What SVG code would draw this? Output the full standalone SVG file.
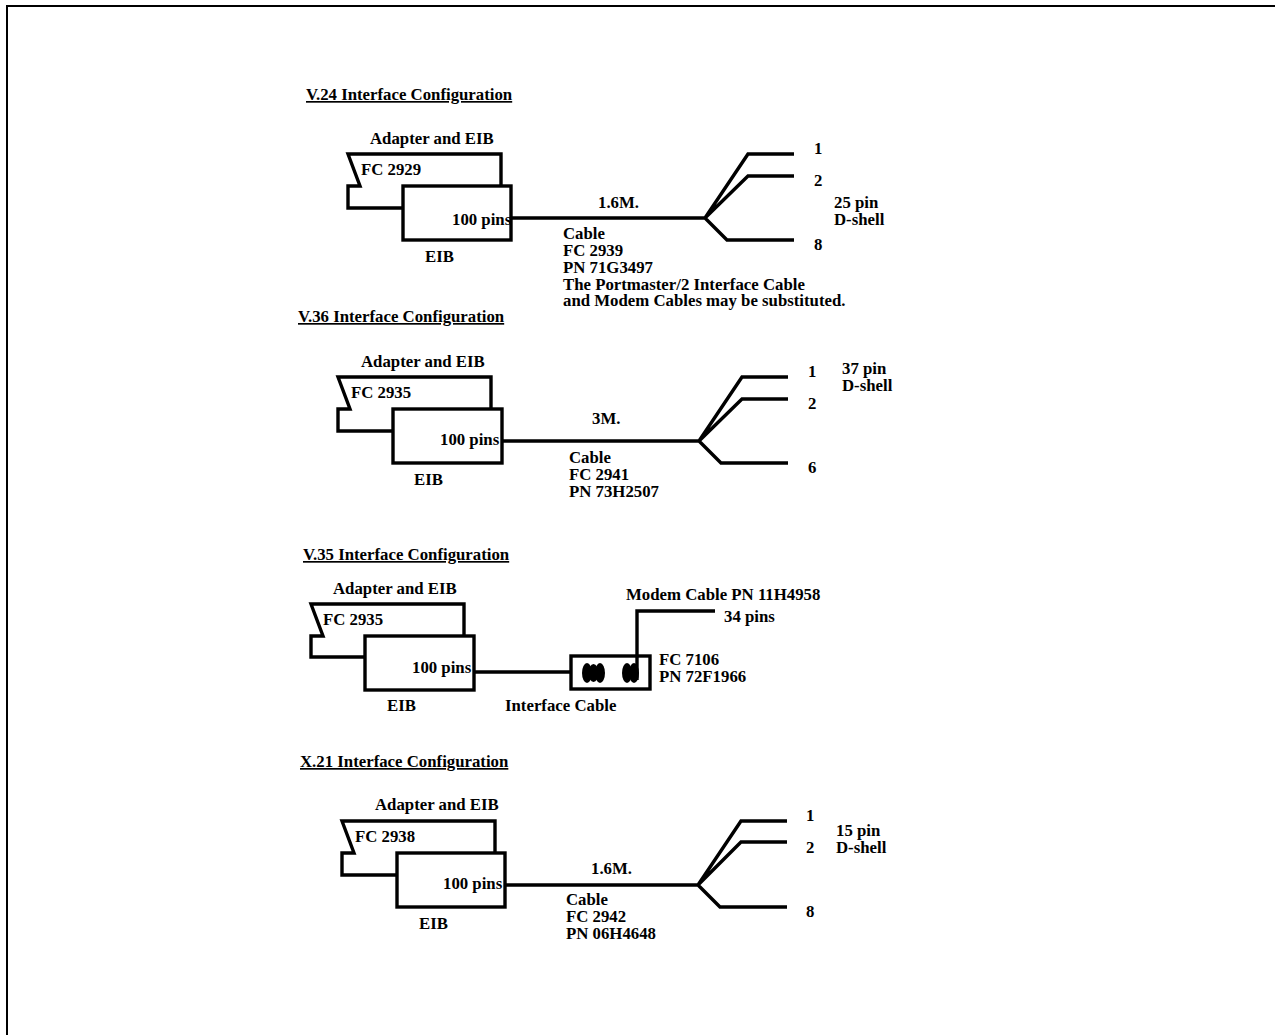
<svg xmlns="http://www.w3.org/2000/svg" width="1275" height="1035" viewBox="0 0 1275 1035">
<style>
text{font-family:"Liberation Serif","Times New Roman",serif;font-weight:bold;font-size:16.8px;fill:#000}
.u{text-decoration:underline}
.l{fill:none;stroke:#000;stroke-width:3.4;stroke-linejoin:miter}
.b{fill:none;stroke:#000;stroke-width:2}
</style>
<rect width="1275" height="1035" fill="#fff"/>
<path class="b" d="M7 1035V6H1275"/>
<g id="connectors">
<path class="l" d="M511 218H705M794 154H748L705 218L748 176H794M705 218L727 240H794"/>
<path class="l" d="M502 441H699M788 377H742L699 441L742 399H788M699 441L721 463H788"/>
<path class="l" d="M474 672H571M637 680V611H715"/>
<path class="l" d="M505 885H698M787 821H741L698 885L741 842H787M698 885L720 907H787"/>
</g>
<g id="v24">
<text class="u" x="306" y="100">V.24 Interface Configuration</text>
<text x="370" y="144">Adapter and EIB</text>
<path class="l" d="M501 186V154H348L360 186H348V208H403"/>
<rect class="l" x="403" y="186" width="108" height="54"/>
<text x="361" y="175">FC 2929</text>
<text x="452" y="225">100 pins</text>
<text x="425" y="262">EIB</text>
<text x="598" y="208">1.6M.</text>
<text x="563" y="239">Cable</text>
<text x="563" y="256">FC 2939</text>
<text x="563" y="273">PN 71G3497</text>
<text x="563" y="290">The Portmaster/2 Interface Cable</text>
<text x="563" y="306">and Modem Cables may be substituted.</text>
<text x="814" y="154">1</text>
<text x="814" y="186">2</text>
<text x="814" y="250">8</text>
<text x="834" y="208">25 pin</text>
<text x="834" y="225">D-shell</text>
</g>
<g id="v36">
<text class="u" x="298" y="322">V.36 Interface Configuration</text>
<text x="361" y="367">Adapter and EIB</text>
<path class="l" d="M491 409V377H338L350 409H338V431H393"/>
<rect class="l" x="393" y="409" width="109" height="54"/>
<text x="351" y="398">FC 2935</text>
<text x="440" y="445">100 pins</text>
<text x="414" y="485">EIB</text>
<text x="592" y="424">3M.</text>
<text x="569" y="463">Cable</text>
<text x="569" y="480">FC 2941</text>
<text x="569" y="497">PN 73H2507</text>
<text x="808" y="377">1</text>
<text x="808" y="409">2</text>
<text x="808" y="473">6</text>
<text x="842" y="374">37 pin</text>
<text x="842" y="391">D-shell</text>
</g>
<g id="v35">
<text class="u" x="303" y="560">V.35 Interface Configuration</text>
<text x="333" y="594">Adapter and EIB</text>
<path class="l" d="M464 636V604H311L323 636H311V657H365"/>
<rect class="l" x="365" y="636" width="109" height="54"/>
<text x="323" y="625">FC 2935</text>
<text x="412" y="673">100 pins</text>
<text x="387" y="711">EIB</text>
<text x="505" y="711">Interface Cable</text>
<rect class="l" x="571" y="656" width="79" height="33"/>
<g id="connector-blobs" fill="#000">
<ellipse cx="587" cy="673" rx="5" ry="10"/><ellipse cx="593.500" cy="673" rx="5" ry="9"/><ellipse cx="600" cy="673" rx="5" ry="10"/>
<ellipse cx="627" cy="673" rx="5" ry="10"/><ellipse cx="634" cy="673" rx="5" ry="10"/>
</g>
<text x="626" y="600">Modem Cable PN 11H4958</text>
<text x="724" y="622">34 pins</text>
<text x="659" y="665">FC 7106</text>
<text x="659" y="682">PN 72F1966</text>
</g>
<g id="x21">
<text class="u" x="300" y="767">X.21 Interface Configuration</text>
<text x="375" y="810">Adapter and EIB</text>
<path class="l" d="M495 853V821H342L354 853H342V875H397"/>
<rect class="l" x="397" y="853" width="108" height="54"/>
<text x="355" y="842">FC 2938</text>
<text x="443" y="889">100 pins</text>
<text x="419" y="929">EIB</text>
<text x="591" y="874">1.6M.</text>
<text x="566" y="905">Cable</text>
<text x="566" y="922">FC 2942</text>
<text x="566" y="939">PN 06H4648</text>
<text x="806" y="821">1</text>
<text x="806" y="853">2</text>
<text x="806" y="917">8</text>
<text x="836" y="836">15 pin</text>
<text x="836" y="853">D-shell</text>
</g>
</svg>
